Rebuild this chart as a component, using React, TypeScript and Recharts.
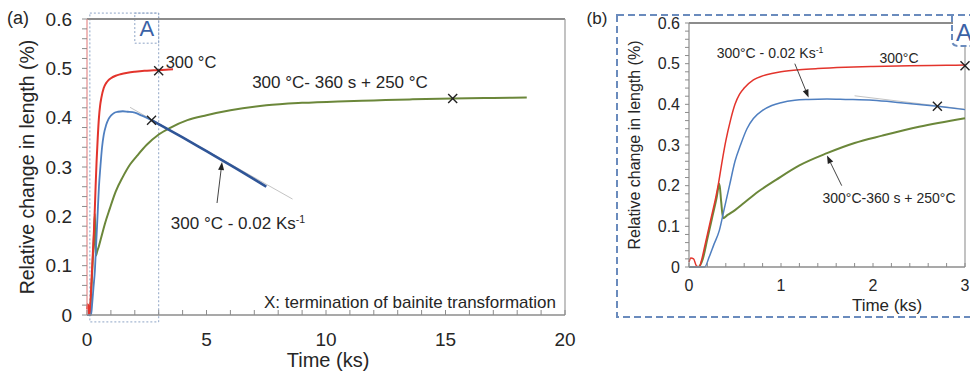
import React from "react";
import {
  ComposedChart,
  Line,
  Scatter,
  XAxis,
  YAxis,
  ReferenceLine,
  ReferenceArea,
  Label
} from "recharts";

const FONT = '"Liberation Sans", Arial, sans-serif';
const TEXT = "#262626";

// 300 °C isothermal
const RED_T = [0, 0.02, 0.05, 0.08, 0.11, 0.14, 0.17, 0.2, 0.23, 0.26, 0.29, 0.32, 0.36, 0.4, 0.45, 0.5, 0.55, 0.6, 0.7, 0.8, 0.9, 1.0, 1.2, 1.4, 1.7, 2.0, 2.4, 2.8, 3.0, 3.3, 3.6];
const RED_V = [0.012, 0.022, 0.02, 0.003, 0, 0.02, 0.05, 0.08, 0.11, 0.14, 0.17, 0.205, 0.26, 0.31, 0.36, 0.4, 0.425, 0.44, 0.46, 0.47, 0.476, 0.48, 0.485, 0.488, 0.491, 0.493, 0.495, 0.496, 0.4965, 0.497, 0.498];

// 300 °C - 0.02 Ks-1 (curve up to the X, then the cooling part)
const BLUE_T = [0, 0.1, 0.17, 0.22, 0.27, 0.33, 0.38, 0.44, 0.5, 0.56, 0.63, 0.7, 0.8, 0.9, 1.0, 1.15, 1.3, 1.5, 1.7, 2.0, 2.3, 2.7];
const BLUE_V = [0, 0, 0, 0.025, 0.055, 0.09, 0.14, 0.2, 0.26, 0.3, 0.34, 0.365, 0.385, 0.397, 0.404, 0.41, 0.412, 0.413, 0.412, 0.41, 0.404, 0.395];
const BLUE_LATE_T = [2.7, 3.0, 4.0, 5.0, 6.0, 7.0, 7.5];
const BLUE_LATE_V = [0.395, 0.387, 0.36, 0.332, 0.304, 0.275, 0.26];

// 300 °C - 360 s + 250 °C
const GREEN_T = [0, 0.1, 0.15, 0.2, 0.25, 0.3, 0.33, 0.35, 0.37, 0.42, 0.5, 0.6, 0.75, 0.95, 1.2, 1.5, 1.8, 2.1, 2.5, 3.0, 3.5, 4.2, 5.0, 6.0, 7.5, 9.0, 10.5, 12.0, 13.5, 15.3, 17.0, 18.4];
const GREEN_V = [0, 0, 0.02, 0.07, 0.12, 0.17, 0.205, 0.16, 0.12, 0.128, 0.14, 0.158, 0.185, 0.215, 0.25, 0.28, 0.305, 0.323, 0.345, 0.366, 0.38, 0.395, 0.405, 0.415, 0.425, 0.43, 0.433, 0.435, 0.437, 0.439, 0.44, 0.441];

// thin gray tangent along the cooling part
const TAN_T = [1.8, 3.0, 8.6];
const TAN_V = [0.421, 0.388, 0.235];

// X: termination of bainite transformation
const MARK_T = [3.0, 2.7, 15.3];
const MARK_V = [0.495, 0.395, 0.439];

const X_TICKS_A = [0, 1, 2, 3, 4, 5, 6, 7, 8, 9, 10, 11, 12, 13, 14, 15, 16, 17, 18, 19, 20];
const X_TICKS_B = [0, 0.2, 0.4, 0.6, 0.8, 1, 1.2, 1.4, 1.6, 1.8, 2, 2.2, 2.4, 2.6, 2.8, 3];
const Y_TICKS = [0, 0.02, 0.04, 0.06, 0.08, 0.1, 0.12, 0.14, 0.16, 0.18, 0.2, 0.22, 0.24, 0.26, 0.28, 0.3, 0.32, 0.34, 0.36, 0.38, 0.4, 0.42, 0.44, 0.46, 0.48, 0.5, 0.52, 0.54, 0.56, 0.58, 0.6];

const ARROWS_A = [[{ x: 5.44, y: 0.227 }, { x: 5.65, y: 0.31 }]];
const ARROWS_B = [
  [{ x: 1.15, y: 0.5 }, { x: 1.3, y: 0.417 }],
  [{ x: 1.66, y: 0.2 }, { x: 1.5, y: 0.274 }]
];

const pts = (ts: number[], vs: number[]) => ts.map((t, i) => ({ t, v: vs[i] }));
const upTo = (arr: { t: number; v: number }[], max: number) => arr.filter(p => p.t <= max + 1e-9);

const red = pts(RED_T, RED_V);
const blue = pts(BLUE_T, BLUE_V);
const blueLate = pts(BLUE_LATE_T, BLUE_LATE_V);
const green = pts(GREEN_T, GREEN_V);
const tangent = pts(TAN_T, TAN_V);
const marks = pts(MARK_T, MARK_V);

const fmtY = (v: number) =>
  Math.abs(v * 10 - Math.round(v * 10)) < 1e-6 ? String(Math.round(v * 10) / 10) : "";

const XMark = (p: any) => {
  const { cx, cy } = p;
  const s = 4.5;
  return (
    <g stroke="#222" strokeWidth={1.4}>
      <line x1={cx - s} y1={cy - s} x2={cx + s} y2={cy + s} />
      <line x1={cx - s} y1={cy + s} x2={cx + s} y2={cy - s} />
    </g>
  );
};

const Arrow = (p: any) => {
  const { x1, y1, x2, y2 } = p;
  const a = Math.atan2(y2 - y1, x2 - x1);
  const L = 8, W = 3;
  const bx = x2 - L * Math.cos(a), by = y2 - L * Math.sin(a);
  const px = -Math.sin(a) * W, py = Math.cos(a) * W;
  return (
    <g>
      <line x1={x1} y1={y1} x2={bx} y2={by} stroke="#444" strokeWidth={1} />
      <polygon points={`${x2},${y2} ${bx + px},${by + py} ${bx - px},${by - py}`} fill="#222" />
    </g>
  );
};

// x ticks point inward, labels only on major values
const makeXTick = (margin: number, fontSize: number, isMajor: (v: number) => boolean, len: number) =>
  (props: any) => {
    const { x, y, payload } = props;
    const v = payload.value;
    const axisY = y - margin;
    return (
      <g>
        <line x1={x} x2={x} y1={axisY} y2={axisY - len} stroke="#8c8c8c" strokeWidth={1} />
        {isMajor(v) && (
          <text x={x} y={y} dy="0.71em" textAnchor="middle" fontSize={fontSize} fill={TEXT} fontFamily={FONT}>
            {Math.round(v * 10) / 10}
          </text>
        )}
      </g>
    );
  };

const XTickA = makeXTick(18, 19, v => v % 5 === 0, 5);
const XTickB = makeXTick(13, 16, v => Math.abs(v - Math.round(v)) < 1e-6, 4);

const txt = (cx: number, cy: number, size: number, extra: any = {}): React.CSSProperties => ({
  position: "absolute",
  left: cx,
  top: cy,
  transform: "translate(-50%, -50%)",
  fontSize: size,
  lineHeight: 1,
  whiteSpace: "nowrap",
  color: TEXT,
  ...extra
});

const sup: React.CSSProperties = { fontSize: "0.62em", verticalAlign: "0.55em" };

const ChartA = () => (
  <ComposedChart width={580} height={374} margin={{ top: 19, right: 15, bottom: 0, left: 0 }}>
    <XAxis
      type="number"
      dataKey="t"
      domain={[0, 20]}
      ticks={X_TICKS_A}
      interval={0}
      height={59}
      tickSize={0}
      tickMargin={18}
      tickLine={false}
      tick={XTickA}
      axisLine={{ stroke: "#8c8c8c", strokeWidth: 1.5 }}
    />
    <YAxis
      type="number"
      domain={[0, 0.6]}
      ticks={Y_TICKS}
      interval={0}
      width={87}
      tickSize={5}
      tickMargin={10}
      tickFormatter={fmtY}
      tick={{ fontSize: 19, fill: TEXT, fontFamily: FONT }}
      tickLine={{ stroke: "#8c8c8c" }}
      axisLine={{ stroke: "#e48c8c", strokeWidth: 1.2 }}
    />
    <ReferenceLine y={0.6} stroke="#8c8c8c" strokeWidth={2} />
    <ReferenceLine x={20} stroke="#9a9a9a" strokeWidth={1.2} />
    <ReferenceArea x1={0.12} x2={3.0} y1={-0.014} y2={0.612} ifOverflow="visible"
      stroke="#8ea4c6" strokeDasharray="2 2" strokeWidth={1} fill="none" fillOpacity={0} />
    <ReferenceArea x1={2.0} x2={3.0} y1={0.551} y2={0.612} ifOverflow="visible"
      stroke="#8ea4c6" strokeDasharray="2 2" strokeWidth={1} fill="none" fillOpacity={0}>
      <Label value="A" position="center" fill="#3b62a6" fontSize={22} fontFamily={FONT} />
    </ReferenceArea>
    <Line data={tangent} dataKey="v" type="linear" stroke="#c4c4c4" strokeWidth={1} dot={false} isAnimationActive={false} />
    <Line data={green} dataKey="v" type="monotone" stroke="#6b873a" strokeWidth={2} dot={false} isAnimationActive={false} />
    <Line data={red} dataKey="v" type="monotone" stroke="#e3342c" strokeWidth={2} dot={false} isAnimationActive={false} />
    <Line data={blue} dataKey="v" type="monotone" stroke="#4f7fc0" strokeWidth={1.8} dot={false} isAnimationActive={false} />
    <Line data={blueLate} dataKey="v" type="monotone" stroke="#2f5597" strokeWidth={2.6} dot={false} isAnimationActive={false} />
    <Scatter data={marks} dataKey="v" shape={XMark} isAnimationActive={false} />
    {ARROWS_A.map((s, i) => (
      <ReferenceLine key={i} segment={s} shape={Arrow} ifOverflow="visible" />
    ))}
  </ComposedChart>
);

const ChartB = () => (
  <ComposedChart width={350} height={374} margin={{ top: 23, right: 5, bottom: 67, left: 0 }}>
    <XAxis
      type="number"
      dataKey="t"
      domain={[0, 3]}
      ticks={X_TICKS_B}
      interval={0}
      height={40}
      tickSize={0}
      tickMargin={13}
      tickLine={false}
      tick={XTickB}
      axisLine={{ stroke: "#8c8c8c", strokeWidth: 1.5 }}
    />
    <YAxis
      type="number"
      domain={[0, 0.6]}
      ticks={Y_TICKS}
      interval={0}
      width={69}
      tickSize={4}
      tickMargin={5}
      tickFormatter={fmtY}
      tick={{ fontSize: 16, fill: TEXT, fontFamily: FONT }}
      tickLine={{ stroke: "#8c8c8c" }}
      axisLine={{ stroke: "#8c8c8c", strokeWidth: 1.2 }}
    />
    <ReferenceLine y={0.6} stroke="#8c8c8c" strokeWidth={2} />
    <ReferenceLine x={3} stroke="#9a9a9a" strokeWidth={1.2} />
    <Line data={upTo(tangent, 3)} dataKey="v" type="linear" stroke="#c4c4c4" strokeWidth={1} dot={false} isAnimationActive={false} />
    <Line data={upTo(green, 3)} dataKey="v" type="monotone" stroke="#6b873a" strokeWidth={2} dot={false} isAnimationActive={false} />
    <Line data={upTo(red, 3)} dataKey="v" type="monotone" stroke="#e3342c" strokeWidth={1.5} dot={false} isAnimationActive={false} />
    <Line data={upTo(blue, 3)} dataKey="v" type="monotone" stroke="#4f7fc0" strokeWidth={1.5} dot={false} isAnimationActive={false} />
    <Line data={upTo(blueLate, 3)} dataKey="v" type="monotone" stroke="#4f7fc0" strokeWidth={1.5} dot={false} isAnimationActive={false} />
    <Scatter data={upTo(marks, 3)} dataKey="v" shape={XMark} isAnimationActive={false} />
    {ARROWS_B.map((s, i) => (
      <ReferenceLine key={i} segment={s} shape={Arrow} ifOverflow="visible" />
    ))}
  </ComposedChart>
);

export default function App() {
  return (
    <div style={{ position: "absolute", left: 0, top: 0, width: 970, height: 374, overflow: "hidden", background: "#fff", fontFamily: FONT }}>
      <div style={{ position: "absolute", left: 0, top: 0 }}>
        <ChartA />
      </div>
      <div style={{ position: "absolute", left: 620, top: 0 }}>
        <ChartB />
      </div>

      <svg width={970} height={374} style={{ position: "absolute", left: 0, top: 0, pointerEvents: "none" }}>
        <rect x={617} y={15} width={400} height={302} fill="none" stroke="#6a8bbd" strokeWidth={2} strokeDasharray="7 4" />
        <rect x={953} y={17} width={20} height={28} fill="#fff" />
        <path d="M952 16 V40 Q952 46 958 46 H975" fill="none" stroke="#6a8bbd" strokeWidth={2} strokeDasharray="6 3" />
        <text x={956} y={41} fontSize={24} fill="#3b62a6" fontFamily={FONT}>A</text>
      </svg>

      {/* panel (a) text */}
      <div style={txt(18, 18, 18)}>(a)</div>
      <div style={txt(28, 167, 19.5, { transform: "translate(-50%, -50%) rotate(-90deg)" })}>Relative change in length (%)</div>
      <div style={txt(328, 360, 20)}>Time (ks)</div>
      <div style={txt(191, 62, 16.5)}>300 °C</div>
      <div style={txt(340, 82, 17)}>300 °C- 360 s + 250 °C</div>
      <div style={txt(238, 223, 17)}>300 °C - 0.02 Ks<span style={sup}>-1</span></div>
      <div style={txt(410, 302, 17)}>X: termination of bainite transformation</div>

      {/* panel (b) text */}
      <div style={txt(597, 18, 17)}>(b)</div>
      <div style={txt(635, 145, 16, { transform: "translate(-50%, -50%) rotate(-90deg)" })}>Relative change in length (%)</div>
      <div style={txt(887, 305, 17)}>Time (ks)</div>
      <div style={txt(770, 53, 14)}>300°C - 0.02 Ks<span style={sup}>-1</span></div>
      <div style={txt(899, 58, 14)}>300°C</div>
      <div style={txt(889, 198, 14)}>300°C-360 s + 250°C</div>
    </div>
  );
}
